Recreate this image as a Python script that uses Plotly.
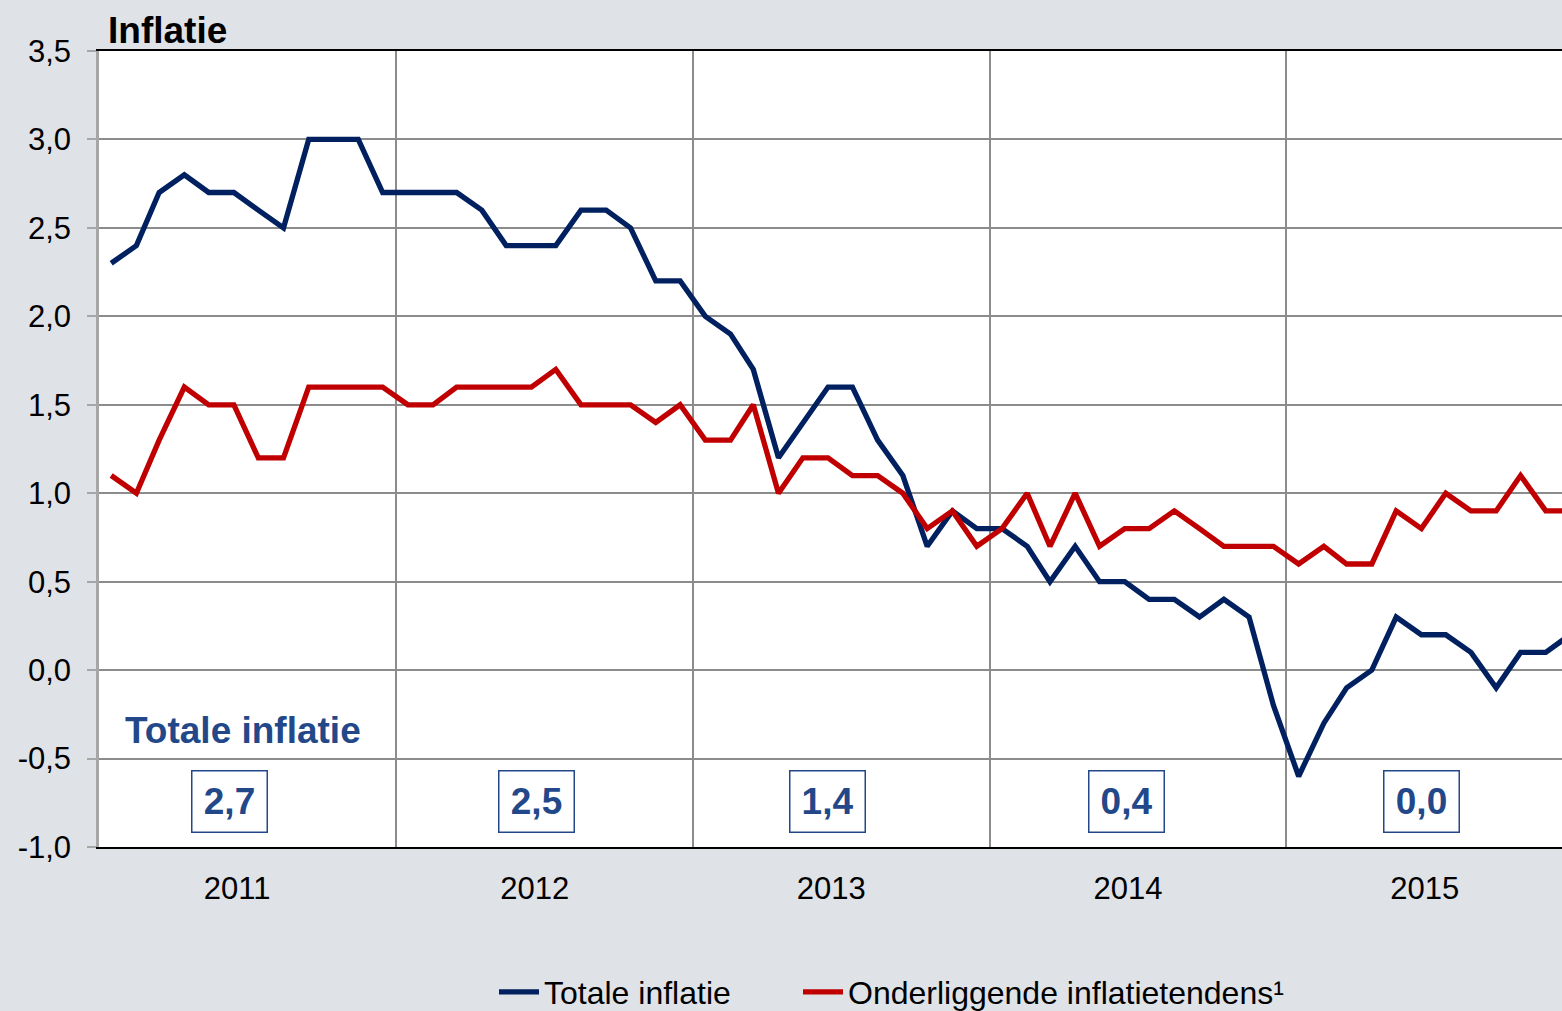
import plotly.graph_objects as go
import pandas as pd

# Monthly observations Jan 2011 - Dec 2015 (plotted at mid-month)
months = pd.date_range("2011-01-01", periods=60, freq="MS") + pd.Timedelta(days=15)

totale_inflatie = [
    2.3, 2.4, 2.7, 2.8, 2.7, 2.7, 2.6, 2.5, 3.0, 3.0, 3.0, 2.7,   # 2011
    2.7, 2.7, 2.7, 2.6, 2.4, 2.4, 2.4, 2.6, 2.6, 2.5, 2.2, 2.2,   # 2012
    2.0, 1.9, 1.7, 1.2, 1.4, 1.6, 1.6, 1.3, 1.1, 0.7, 0.9, 0.8,   # 2013
    0.8, 0.7, 0.5, 0.7, 0.5, 0.5, 0.4, 0.4, 0.3, 0.4, 0.3, -0.2,  # 2014
    -0.6, -0.3, -0.1, 0.0, 0.3, 0.2, 0.2, 0.1, -0.1, 0.1, 0.1, 0.2,  # 2015
]
onderliggende = [
    1.1, 1.0, 1.3, 1.6, 1.5, 1.5, 1.2, 1.2, 1.6, 1.6, 1.6, 1.6,   # 2011
    1.5, 1.5, 1.6, 1.6, 1.6, 1.6, 1.7, 1.5, 1.5, 1.5, 1.4, 1.5,   # 2012
    1.3, 1.3, 1.5, 1.0, 1.2, 1.2, 1.1, 1.1, 1.0, 0.8, 0.9, 0.7,   # 2013
    0.8, 1.0, 0.7, 1.0, 0.7, 0.8, 0.8, 0.9, 0.8, 0.7, 0.7, 0.7,   # 2014
    0.6, 0.7, 0.6, 0.6, 0.9, 0.8, 1.0, 0.9, 0.9, 1.1, 0.9, 0.9,   # 2015
]

years = ["2011", "2012", "2013", "2014", "2015"]
year_label_pos = ["2011-06-20", "2012-06-20", "2013-06-20", "2014-06-20", "2015-06-20"]
year_avg = [2.7, 2.5, 1.4, 0.4, 0.0]
year_avg_pos = ["2011-06-10", "2012-06-22", "2013-06-15", "2014-06-18", "2015-06-16"]

y_tickvals = [-1.0, -0.5, 0.0, 0.5, 1.0, 1.5, 2.0, 2.5, 3.0, 3.5]
y_ticktext = ["-1,0", "-0,5", "0,0", "0,5", "1,0", "1,5", "2,0", "2,5", "3,0", "3,5"]

BG = "#dfe2e7"
GRID = "#8c8c8c"
AXIS = "#a6a6a6"
NAVY = "#002060"
RED = "#c00000"
TXTBLUE = "#23488a"
FONT = "Liberation Sans, Arial, sans-serif"

fig = go.Figure()
fig.add_trace(go.Scatter(x=months, y=totale_inflatie, mode="lines", name="Totale inflatie",
                         line=dict(color=NAVY, width=5.3), legend="legend"))
fig.add_trace(go.Scatter(x=months, y=onderliggende, mode="lines",
                         name="Onderliggende inflatietendens\u00b9",
                         line=dict(color=RED, width=5.3), legend="legend2"))

annotations = [
    dict(x="2011-01-30", y=-0.342, xref="x", yref="y", text="<b>Totale inflatie</b>",
         showarrow=False, xanchor="left", yanchor="middle",
         font=dict(family=FONT, size=37, color=TXTBLUE)),
]
for pos, v in zip(year_avg_pos, year_avg):
    annotations.append(dict(
        x=pos, y=-0.745, xref="x", yref="y",
        text="<b>" + f"{v:.1f}".replace(".", ",") + "</b>",
        showarrow=False, xanchor="center", yanchor="middle",
        font=dict(family=FONT, size=37, color=TXTBLUE),
        bgcolor="white", bordercolor=TXTBLUE, borderwidth=1.5, borderpad=2,
        width=70, height=56,
    ))

legend_common = dict(orientation="h", xref="container", yref="container",
                     xanchor="left", yanchor="middle", y=1 - 992 / 1011,
                     font=dict(family=FONT, size=32, color="black"),
                     bgcolor="rgba(0,0,0,0)", itemwidth=40)

fig.update_layout(
    width=1562, height=1011,
    paper_bgcolor=BG, plot_bgcolor="white",
    margin=dict(l=99, r=0, t=51, b=164, autoexpand=False),
    separators=",.",
    font=dict(family=FONT, size=31, color="black"),
    title=dict(text="<b>Inflatie</b>", x=108 / 1562, xanchor="left",
               y=1 - 30 / 1011, yanchor="middle", yref="container",
               font=dict(family=FONT, size=37, color="black")),
    showlegend=True,
    legend=dict(x=494 / 1562, **legend_common),
    legend2=dict(x=798 / 1562, **legend_common),
    annotations=annotations,
    xaxis=dict(
        type="date",
        range=["2011-01-01", "2015-12-06"],
        tickvals=year_label_pos, ticktext=years,
        showgrid=False, ticks="", ticklabelstandoff=13,
        showline=True, linecolor="black", linewidth=2, mirror=True,
        minor=dict(tick0="2011-01-01", dtick="M12", showgrid=True,
                   gridcolor=GRID, gridwidth=2, ticks=""),
        zeroline=False,
    ),
    yaxis=dict(
        range=[-1.0, 3.5], tickvals=y_tickvals, ticktext=y_ticktext,
        showgrid=True, gridcolor=GRID, gridwidth=2,
        zeroline=False,
        showline=True, linecolor=AXIS, linewidth=2.5,
        ticks="outside", ticklen=9, tickcolor=AXIS, tickwidth=2,
        ticklabelstandoff=10,
    ),
)

fig.write_html(
    "out.html",
    config={"displayModeBar": False},
    post_script=(
        "document.documentElement.style.margin='0';"
        "document.body.style.margin='0';"
        "document.body.style.overflow='hidden';"
        "document.body.style.background='" + BG + "';"
    ),
)
